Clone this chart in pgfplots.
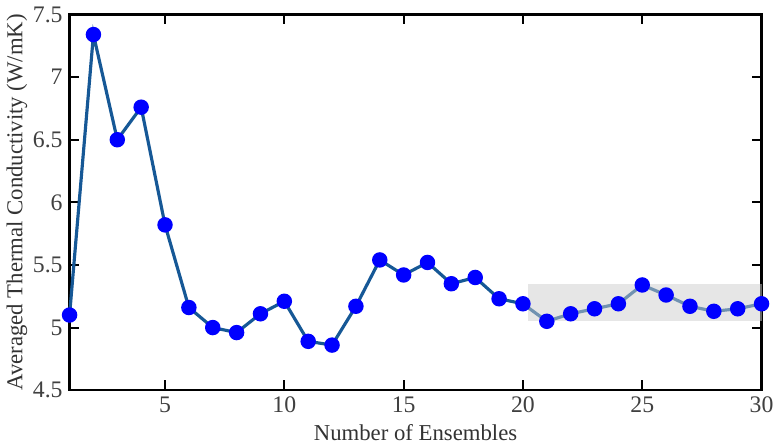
\documentclass[border=0pt]{standalone}
\usepackage{fontspec}
\setmainfont{Liberation Serif}
\usepackage{pgfplots}
\pgfplotsset{compat=1.18}
\definecolor{lineblue}{RGB}{22,88,150}
\definecolor{markblue}{RGB}{0,0,255}
\definecolor{boxgray}{RGB}{205,205,205}
\begin{document}
\begin{tikzpicture}
\begin{axis}[
  scale only axis,
  width=350pt, height=190pt,
  xmin=1, xmax=30, ymin=4.5, ymax=7.5,
  xtick={5,10,15,20,25,30},
  ytick={4.5,5,5.5,6,6.5,7,7.5},
  yticklabels={4.5,5,5.5,6,6.5,7,7.5},
  xticklabels={5,10,15,20,25,30},
  tick align=inside,
  major tick length=5pt,
  tick style={black, line width=1pt},
  axis line style={black, line width=1.1pt},
  every tick label/.append style={font=\fontsize{12}{14}\selectfont, text=black!75},
  /pgf/number format/assume math mode=true,
  xlabel={Number of Ensembles},
  ylabel={Averaged Thermal Conductivity (W/mK)},
  label style={font=\fontsize{11.5}{13}\selectfont, text=black!80},
  xlabel style={yshift=1pt},
  ylabel style={yshift=-4pt},
  clip=false,
]
\addplot[lineblue, line width=1.6pt, mark=*, mark size=3.1pt,
  mark options={fill=markblue, draw=markblue}] coordinates {
(1,5.10) (2,7.34) (3,6.50) (4,6.76) (5,5.82) (6,5.16) (7,5.00) (8,4.96)
(9,5.11) (10,5.21) (11,4.89) (12,4.86) (13,5.17) (14,5.54) (15,5.42)
(16,5.52) (17,5.35) (18,5.40) (19,5.23) (20,5.19) (21,5.05) (22,5.11)
(23,5.15) (24,5.19) (25,5.34) (26,5.26) (27,5.17) (28,5.13) (29,5.15) (30,5.19)
};
\fill[boxgray, fill opacity=0.5] (axis cs:20.2,5.053) rectangle (axis cs:30,5.347);
\end{axis}
\end{tikzpicture}
\end{document}
